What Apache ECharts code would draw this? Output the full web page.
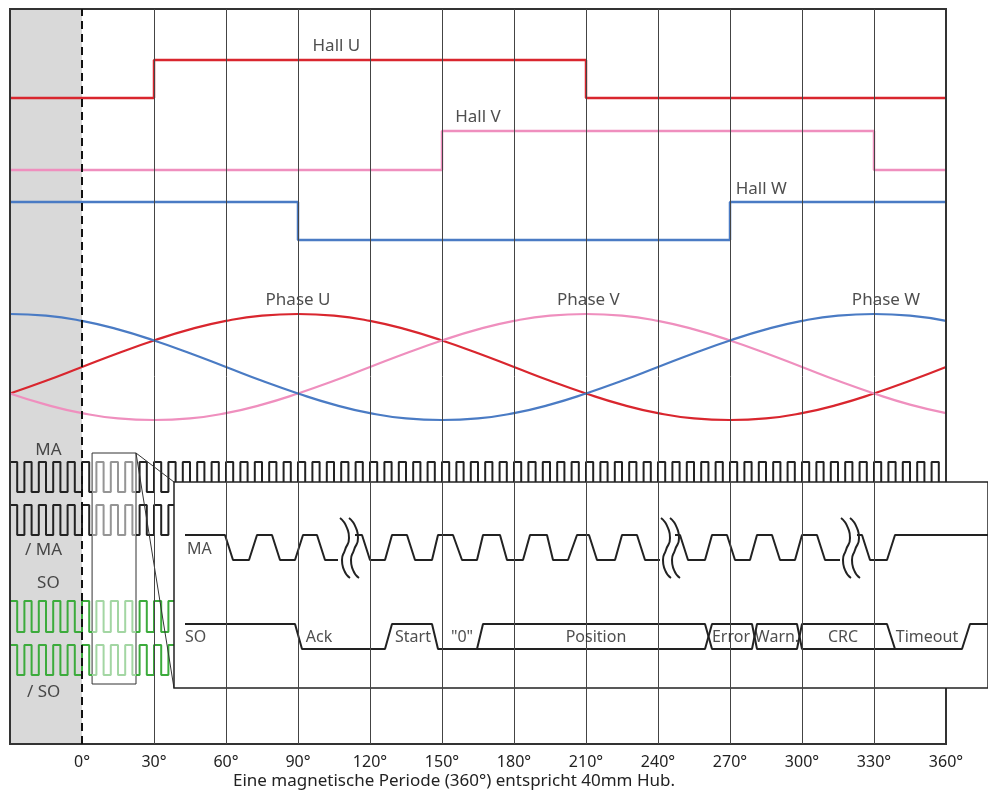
<!DOCTYPE html>
<html><head><meta charset="utf-8">
<script src="https://cdn.jsdelivr.net/npm/echarts@6/dist/echarts.min.js"></script>
<style>html,body{margin:0;padding:0;background:#fff}#c{width:988px;height:794px}</style>
</head><body><div id="c"></div>
<script>
// ---------------- DATA ----------------
const degreeTicks = [0, 30, 60, 90, 120, 150, 180, 210, 240, 270, 300, 330, 360];
const gridDegrees = [30, 60, 90, 120, 150, 180, 210, 240, 270, 300, 330];
const caption = 'Eine magnetische Periode (360°) entspricht 40mm Hub.';

// Hall sensor levels: [angle, level] (level 1 = high), held until next angle
const hallU = [[-30, 0], [30, 1], [210, 0], [360, 0]];
const hallV = [[-30, 0], [150, 1], [330, 0], [360, 0]];
const hallW = [[-30, 1], [90, 0], [270, 1], [360, 1]];

// Phase curves, normalised value read every 15°
const phaseAngles = [-30,-15,0,15,30,45,60,75,90,105,120,135,150,165,180,195,210,225,240,255,270,285,300,315,330,345,360];
const phaseU = [-0.5,-0.26,0,0.26,0.5,0.71,0.87,0.97,1,0.97,0.87,0.71,0.5,0.26,0,-0.26,-0.5,-0.71,-0.87,-0.97,-1,-0.97,-0.87,-0.71,-0.5,-0.26,0];
const phaseV = [-0.5,-0.71,-0.87,-0.97,-1,-0.97,-0.87,-0.71,-0.5,-0.26,0,0.26,0.5,0.71,0.87,0.97,1,0.97,0.87,0.71,0.5,0.26,0,-0.26,-0.5,-0.71,-0.87];
const phaseW = [1,0.97,0.87,0.71,0.5,0.26,0,-0.26,-0.5,-0.71,-0.87,-0.97,-1,-0.97,-0.87,-0.71,-0.5,-0.26,0,0.26,0.5,0.71,0.87,0.97,1,0.97,0.87];

// Clock pulse trains: rising edges (deg), high for half a period
const clockEdges = [-30,-24,-18,-12,-6,0,6,12,18,24,30,36,42,48,54,60,66,72,78,84,90,96,102,108,114,120,126,132,138,144,150,156,162,168,174,180,186,192,198,204,210,216,222,228,234,240,246,252,258,264,270,276,282,288,294,300,306,312,318,324,330,336,342,348,354];
const clockHalfPeriod = 3;
const zoomWindow = [4.2, 22.5]; // degrees covered by the magnified window

// Inset (magnified telegram), time in inset units
const insetMA = [
  [[11,1],[51,1],[59,0],[75,0],[83,1],[98,1],[106,0],[121,0],[129,1],[143,1],[151,0],[164,0]],
  [[181,1],[188,1],[196,0],[211,0],[218,1],[233,1],[241,0],[258,0],[264,1],[279,1],[288,0],[303,0],[309,1],[326,1],[333,0],[349,0],[356,1],[373,1],[379,0],[394,0],[403,1],[415,1],[423,0],[441,0],[448,1],[463,1],[471,0],[486,0]],
  [[501,1],[506,1],[514,0],[531,0],[538,1],[553,1],[561,0],[576,0],[583,1],[598,1],[606,0],[621,0],[628,1],[643,1],[651,0],[666,0]],
  [[683,1],[688,1],[696,0],[713,0],[721,1],[814,1]]
];
const insetSOa = [[11,1],[121,1],[128,0],[211,0],[218,1],[258,1],[264,0],[303,0],[309,1],[531,1],[538,0],[578,0],[583,1],[623,1],[628,0],[721,0],[788,0],[796,1],[814,1]];
const insetSOb = [[303,0],[531,0],[538,1],[578,1],[583,0],[623,0],[628,1],[713,1],[721,0]];
const insetBreaks = [166, 487, 667];
const insetFields = ['Ack', 'Start', '"0"', 'Position', 'Error', 'Warn.', 'CRC', 'Timeout'];
const insetFieldPos = [145, 239, 288, 422, 557, 603, 669, 753];

const signalNames = ['Hall U', 'Hall V', 'Hall W', 'Phase U', 'Phase V', 'Phase W', 'MA', '/ MA', 'SO', '/ SO'];
const signalLabelPos = [[106,698],[165,627],[283,555],[90,444],[211,444],[335,444],[-14,294],[-16,194],[-14,161],[-16,52]];

// ---------------- LAYOUT / STYLE ----------------
const FONT = '"Noto Sans", sans-serif';
const C = {red:'#d9262e', pink:'#ef8fbe', blue:'#4a7bc4', green:'#3cab3c', greenLight:'#a3d6a3',
  ink:'#222', inkLight:'#959595', grid:'#444', shade:'#d9d9d9'};
const track = {
  hallU:{base:646, amp:38}, hallV:{base:574, amp:39}, hallW:{base:504, amp:38},
  phase:{base:377, amp:53},
  ma:{base:252, amp:30}, nma:{base:209, amp:30}, so:{base:112, amp:31}, nso:{base:69, amp:30},
  inMA:{base:128, amp:25}, inSO:{base:39, amp:25}
};
const zoomY = [291, 60];            // main-grid values of the zoom window box
const insetCornerX = 38.33;          // inset left edge in degrees
const insetCornerY = [262, 56];      // inset top / bottom in main grid values
const breakShape = [[0,0],[7,10],[9,20],[5,32],[2,42],[4,52],[10,60]];
const breakTop = 170, breakGap = 9;

const lv = (pts, t) => pts.map(p => [p[0], t.base + p[1] * t.amp]);
function pulse(edges, half, end) {
  const pts = [];
  edges.forEach(e => { pts.push([e,0],[e,1],[e+half,1],[e+half,0]); });
  pts.push([end,0]);
  return pts;
}
const clk = pulse(clockEdges, clockHalfPeriod, 360);

function lineS(data, color, width, extra) {
  return Object.assign({type:'line', data, symbol:'none', showSymbol:false, silent:true,
    lineStyle:{color, width}, z:2}, extra||{});
}
// clock series: colour comes from the visualMap (no explicit line colour)
function clockS(data) {
  return {type:'line', data, symbol:'none', showSymbol:false, silent:true, lineStyle:{width:2}, z:2};
}

const series = [];
// background shade
series.push({type:'line', data:[], silent:true, z:0,
  markArea:{silent:true, itemStyle:{color:C.shade}, data:[[{xAxis:-30},{xAxis:0}]]}});
// grid lines
series.push({type:'line', data:[], silent:true, z:1,
  markLine:{silent:true, symbol:'none', label:{show:false}, lineStyle:{color:C.grid, width:1, type:'solid'},
    data: gridDegrees.map(d => ({xAxis:d}))}});
// zero dashed line
series.push({type:'line', data:[], silent:true, z:1.5,
  markLine:{silent:true, symbol:'none', label:{show:false}, lineStyle:{color:'#111', width:2, type:[8,5]},
    data:[{xAxis:0}]}});
// Hall
series.push(lineS(lv(hallU, track.hallU), C.red, 2.5, {step:'end'}));
series.push(lineS(lv(hallV, track.hallV), C.pink, 2.5, {step:'end'}));
series.push(lineS(lv(hallW, track.hallW), C.blue, 2.5, {step:'end'}));
// Phases
[[phaseU, C.red], [phaseV, C.pink], [phaseW, C.blue]].forEach(([vals, col]) => {
  series.push(lineS(lv(phaseAngles.map((a,i) => [a, vals[i]]), track.phase), col, 2.2, {smooth:0.5}));
});
// clocks
const maIdx = [], soIdx = [];
maIdx.push(series.length); series.push(clockS(lv(clk, track.ma)));
maIdx.push(series.length); series.push(clockS(lv(clk, track.nma)));
soIdx.push(series.length); series.push(clockS(lv(clk, track.so)));
soIdx.push(series.length); series.push(clockS(lv(clk, track.nso)));
// zoom window + connector lines
series.push(lineS([[insetCornerX, insetCornerY[0]], [zoomWindow[1], zoomY[0]], [insetCornerX, insetCornerY[1]]], '#333', 1, {
  z:2.2, clip:false,
  markArea:{silent:true, itemStyle:{color:'rgba(255,255,255,0)', borderColor:'#333', borderWidth:1},
    data:[[{xAxis:zoomWindow[0], yAxis:zoomY[0]}, {xAxis:zoomWindow[1], yAxis:zoomY[1]}]]}
}));
// signal labels
series.push({type:'scatter', z:2.3, silent:true, symbolSize:1, itemStyle:{color:'rgba(0,0,0,0)'},
  data: signalNames.map((n,i) => ({name:n, value:signalLabelPos[i]})),
  label:{show:true, position:'inside', formatter:'{b}', color:'#222', fontSize:17, fontFamily:FONT}});

// ---- inset ----
const inZ = 4;
insetMA.forEach(seg => series.push(lineS(lv(seg, track.inMA), C.ink, 2, {xAxisIndex:1, yAxisIndex:1, z:inZ})));
series.push(lineS(lv(insetSOa, track.inSO), C.ink, 2, {xAxisIndex:1, yAxisIndex:1, z:inZ}));
series.push(lineS(lv(insetSOb, track.inSO), C.ink, 2, {xAxisIndex:1, yAxisIndex:1, z:inZ}));
insetBreaks.forEach(b => {
  [0, breakGap].forEach(off => {
    series.push(lineS(breakShape.map(p => [b + off + p[0], breakTop - p[1]]), C.ink, 2,
      {xAxisIndex:1, yAxisIndex:1, z:inZ, smooth:0.6}));
  });
});
series.push({type:'scatter', xAxisIndex:1, yAxisIndex:1, z:inZ+1, silent:true, symbolSize:1,
  itemStyle:{color:'rgba(0,0,0,0)'},
  data: [{name:'MA', value:[13, 139], label:{align:'left'}}, {name:'SO', value:[11, track.inSO.base + 12], label:{align:'left'}}]
    .concat(insetFields.map((n,i) => ({name:n, value:[insetFieldPos[i], track.inSO.base + 12]}))),
  label:{show:true, position:'inside', formatter:'{b}', color:'#222', fontSize:16, fontFamily:FONT}});

const winPieces = (dark, light) => [
  {lt:zoomWindow[0], color:dark},
  {gte:zoomWindow[0], lte:zoomWindow[1], color:light},
  {gt:zoomWindow[1], color:dark}
];

const option = {
  animation:false,
  backgroundColor:'#fff',
  textStyle:{fontFamily:FONT},
  title:{text:caption, left:233, top:773, padding:0,
    textStyle:{fontSize:17, fontWeight:'normal', color:'#222', fontFamily:FONT}},
  visualMap:[
    {type:'piecewise', show:false, dimension:0, seriesIndex:maIdx, pieces:winPieces(C.ink, C.inkLight)},
    {type:'piecewise', show:false, dimension:0, seriesIndex:soIdx, pieces:winPieces(C.green, C.greenLight)}
  ],
  grid:[
    {left:10, top:9, width:936, height:735, show:true, borderColor:'#333', borderWidth:2, backgroundColor:'transparent', z:2.5},
    {left:174, top:482, width:814, height:206, show:true, borderColor:'#222', borderWidth:1.5, backgroundColor:'#fff', z:3}
  ],
  xAxis:[
    {type:'value', gridIndex:0, min:-30, max:360, interval:30,
      axisLine:{show:false}, axisTick:{show:false}, splitLine:{show:false},
      axisLabel:{margin:10, fontSize:16, color:'#222', fontFamily:FONT,
        formatter: v => degreeTicks.indexOf(v) >= 0 ? v + '°' : ''}},
    {type:'value', gridIndex:1, min:0, max:814, show:false}
  ],
  yAxis:[
    {type:'value', gridIndex:0, min:0, max:735, show:false},
    {type:'value', gridIndex:1, min:0, max:206, show:false}
  ],
  series
};
const chart = echarts.init(document.getElementById('c'), null, {renderer:'canvas'});
chart.setOption(option);
</script></body></html>
